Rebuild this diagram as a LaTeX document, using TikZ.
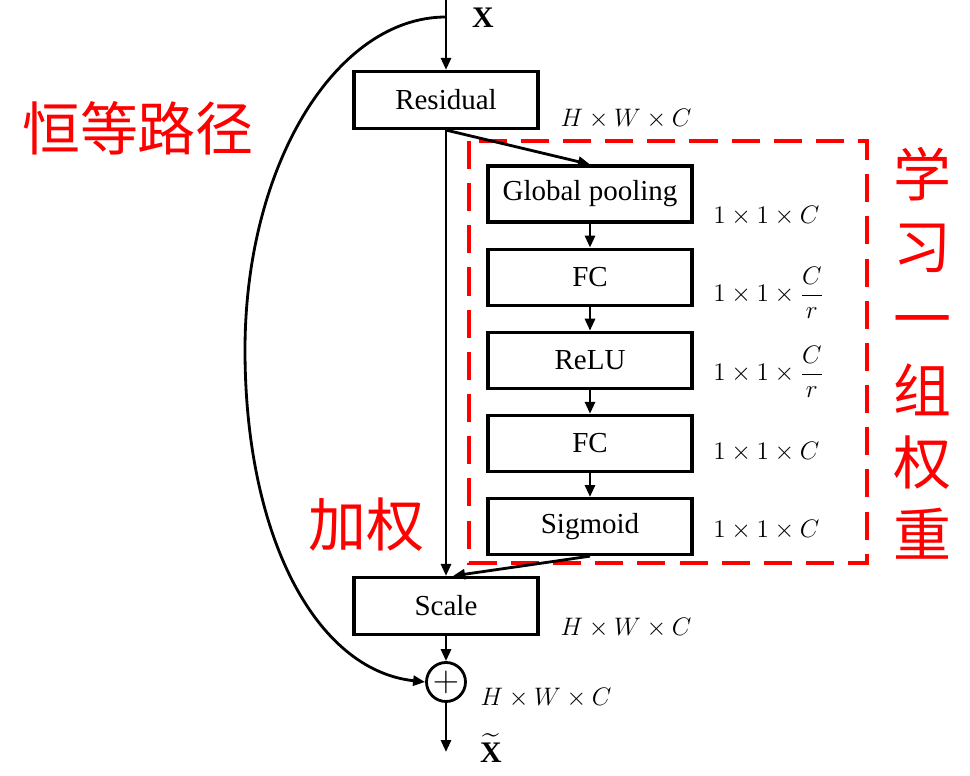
\documentclass[tikz,border=0pt]{standalone}
\usepackage{amsmath}
\usepackage{fontspec}
\setmainfont{Liberation Serif}
\newfontfamily\cjk{Noto Sans CJK SC}
\usetikzlibrary{arrows.meta,positioning}

\begin{document}
\begin{tikzpicture}[
    x=0.02cm, y=-0.02cm,
    font=\fontsize{16.5}{19}\selectfont,
    box/.style={draw, line width=1.8pt, minimum width=3.68cm, minimum height=1.14cm, align=center, fill=white},
    sebox/.style={box, minimum width=4.08cm, minimum height=1.12cm},
    dimlabel/.style={font=\fontsize{14}{16}\selectfont, anchor=west, inner sep=0pt},
    note/.style={red, font=\cjk\fontsize{33}{41}\selectfont, align=center, inner sep=0pt},
    arrow/.style={-{Triangle[length=2.4mm,width=2mm]}, line width=1.6pt},
    redbox/.style={red, dash pattern=on 16pt off 8pt, line width=2.2pt}
]
\useasboundingbox (0,0) rectangle (970,776);

% main column
\coordinate (xin) at (446,0);
\coordinate (split) at (446,17);
\coordinate (bend) at (245,350);
\coordinate (xout) at (446,752);
\node[box] (res) at (446,100) {Residual};
\node[box] (scale) at (446,606) {Scale};
\node[circle, draw, line width=1.6pt, minimum size=0.78cm, inner sep=0pt, font=\fontsize{20}{20}\selectfont] (plus) at (446,682) {$+$};

% squeeze-excitation branch
\node[sebox] (gp) at (590,194) {Global pooling};
\node[sebox, below=0.48cm of gp] (fc1) {FC};
\node[sebox, below=0.48cm of fc1] (relu) {ReLU};
\node[sebox, below=0.48cm of relu] (fc2) {FC};
\node[sebox, below=0.48cm of fc2] (sig) {Sigmoid};
\draw[redbox] (469,141) rectangle (867,563);

% labels
\node[font=\fontsize{17}{19}\selectfont] (xlab) at (483,18) {$\mathbf{X}$};
\node[font=\fontsize{17}{19}\selectfont] (xtlab) at (491,748) {$\widetilde{\mathbf{X}}$};
\node[dimlabel, anchor=center] (dres) at (626,119) {$H\times W\times C$};
\node[dimlabel] (dgp) at (713,216) {$1\times1\times C$};
\node[dimlabel] (dfc1) at (713,293) {$1\times1\times\dfrac{C}{r}$};
\node[dimlabel] (drelu) at (713,372) {$1\times1\times\dfrac{C}{r}$};
\node[dimlabel] (dfc2) at (713,452) {$1\times1\times C$};
\node[dimlabel] (dsig) at (713,530) {$1\times1\times C$};
\node[dimlabel, anchor=center] (dscale) at (626,628) {$H\times W\times C$};
\node[dimlabel, anchor=center] (dplus) at (546,698) {$H\times W\times C$};

\node[note] (identity) at (138,128) {恒等路径};
\node[note] (weighting) at (366,525) {加权};
\node[note] (learn) at (922,353) {学\\习\\一\\组\\权\\重};

% connectors
\draw[arrow] (xin) -- (res);
\draw[arrow] (res) -- (scale);
\draw[arrow] (res.south) -- (gp.north);
\draw[arrow] (gp) -- (fc1);
\draw[arrow] (fc1) -- (relu);
\draw[arrow] (relu) -- (fc2);
\draw[arrow] (fc2) -- (sig);
\draw[arrow] (sig.south) -- ([xshift=0.14cm]scale.north);
\draw[arrow] (scale) -- (plus);
\draw[arrow] (plus) -- (xout);
\draw[arrow] (split) .. controls +(-110,0) and +(0,-185) .. (bend)
    .. controls +(0,185) and +(-110,-12) .. (plus.west);
\end{tikzpicture}
\end{document}
